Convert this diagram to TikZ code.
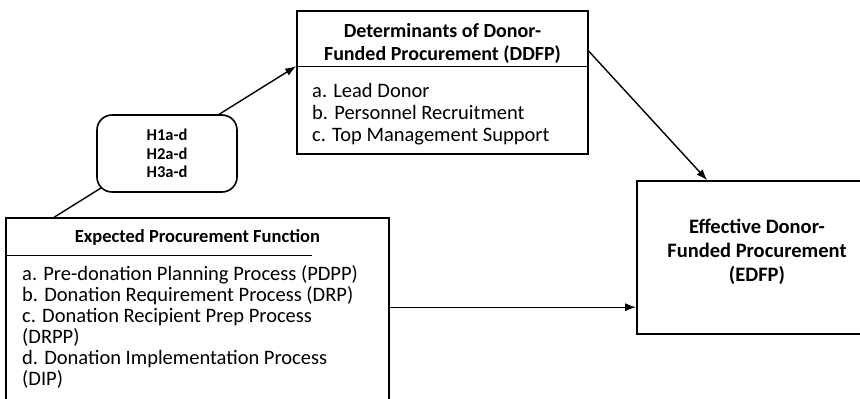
\documentclass[tikz,border=0pt]{standalone}
\usepackage{fontspec}
\setmainfont{Carlito}
\usetikzlibrary{arrows.meta,calc}
\tikzset{
  box/.style={draw,line width=1.6pt,inner sep=0pt},
  txt/.style={inner sep=0pt},
  conn/.style={line width=1.4pt,-{Latex[length=11pt,width=8pt]}},
}
\begin{document}
\begin{tikzpicture}[x=1pt,y=-1pt]
  \useasboundingbox (0,0) rectangle (860,399);
  \clip (0,0) rectangle (860,399);
  % boxes
  \node[box,minimum width=291pt,minimum height=143pt] (ddfp) at (442.5,82.5) {};
  \node[box,minimum width=232pt,minimum height=153pt] (edfp) at (753,257.5) {};
  \node[box,minimum width=383pt,minimum height=202pt] (epf) at (197.5,319) {};
  % dividers
  \coordinate (ddfpdiv) at ($(ddfp.north west)+(0,56)$);
  \draw[line width=1.3pt] (ddfpdiv) -- (ddfpdiv -| ddfp.east);
  \coordinate (epfdiv) at ($(epf.north west)+(0,38)$);
  \draw[line width=1.3pt] (epfdiv) -- ++(307,0);
  % texts
  \node[txt,font=\bfseries\fontsize{20}{23}\selectfont,align=center] (ddfptitle) at (442.5,43.5) {Determinants of Donor-\\Funded Procurement (DDFP)};
  \node[txt,font=\fontsize{20.5}{22}\selectfont,align=left,anchor=west] (ddfplist) at (312,114) {a. Lead Donor\\b. Personnel Recruitment\\c. Top Management Support};
  \node[txt,font=\bfseries\fontsize{20.5}{24}\selectfont,align=center] (edfptitle) at (757,252) {Effective Donor-\\Funded Procurement\\(EDFP)};
  \node[txt,font=\bfseries\fontsize{18.5}{22}\selectfont] (epftitle) at (197.5,237) {Expected Procurement Function};
  \node[txt,font=\fontsize{20.5}{21}\selectfont,align=left,anchor=west] (epflist) at (22,327) {a. Pre-donation Planning Process (PDPP)\\b. Donation Requirement Process (DRP)\\c. Donation Recipient Prep Process\\(DRPP)\\d. Donation Implementation Process\\(DIP)};
  % connectors
  \coordinate (epftop) at ($(epf.north west)+(49,0)$);
  \draw[conn] (epftop) -- (ddfpdiv);
  \coordinate (ddfpout) at ($(ddfp.north east)+(0,41)$);
  \coordinate (edfpin) at ($(edfp.north west)+(71,0)$);
  \draw[conn] (ddfpout) -- (edfpin);
  \coordinate (epfout) at ($(epf.north east)+(0,90)$);
  \draw[conn] (epfout) -- (epfout -| edfp.west);
  % hypotheses
  \node[box,rounded corners=15pt,fill=white,minimum width=140pt,minimum height=77pt,font=\bfseries\fontsize{16.5}{18.5}\selectfont,align=center] (hyp) at (167,153.5) {H1a-d\\H2a-d\\H3a-d};
\end{tikzpicture}
\end{document}
